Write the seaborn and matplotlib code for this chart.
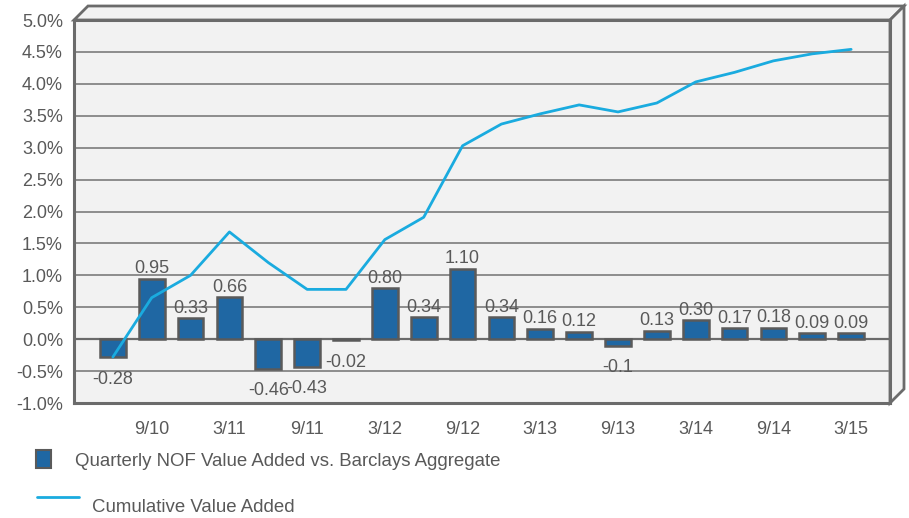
import numpy as np
import pandas as pd
import matplotlib
matplotlib.use("Agg")
import matplotlib.pyplot as plt
import seaborn as sns
from matplotlib.patches import Polygon, Rectangle
from matplotlib.lines import Line2D

# --- data ---
quarters = ["6/10", "9/10", "12/10", "3/11", "6/11", "9/11", "12/11", "3/12", "6/12", "9/12",
            "12/12", "3/13", "6/13", "9/13", "12/13", "3/14", "6/14", "9/14", "12/14", "3/15"]
quarterly = [-0.28, 0.95, 0.33, 0.66, -0.46, -0.43, -0.02, 0.80, 0.34, 1.10,
             0.34, 0.16, 0.12, -0.10, 0.13, 0.30, 0.17, 0.18, 0.09, 0.09]
bar_labels = ["-0.28", "0.95", "0.33", "0.66", "-0.46", "-0.43", "-0.02", "0.80", "0.34", "1.10",
              "0.34", "0.16", "0.12", "-0.1", "0.13", "0.30", "0.17", "0.18", "0.09", "0.09"]
cumulative = [-0.28, 0.65, 1.00, 1.68, 1.20, 0.78, 0.78, 1.56, 1.91, 3.03,
              3.37, 3.53, 3.67, 3.56, 3.70, 4.03, 4.18, 4.36, 4.47, 4.54]
tick_labels = ["9/10", "3/11", "9/11", "3/12", "9/12", "3/13", "9/13", "3/14", "9/14", "3/15"]
y_ticks = [-1.0, -0.5, 0.0, 0.5, 1.0, 1.5, 2.0, 2.5, 3.0, 3.5, 4.0, 4.5, 5.0]

bar_color = "#1f67a3"
line_color = "#1aabdf"
text_color = "#595959"
frame_color = "#6b6b6b"
wall_color = "#f2f2f2"

sns.set_style("white")
plt.rcParams["font.family"] = ["Liberation Sans", "DejaVu Sans"]

df = pd.DataFrame({"quarter": quarters, "value": quarterly, "cum": cumulative})
df["pos"] = np.arange(len(df))

W, H = 909, 518
fig = plt.figure(figsize=(W / 100, H / 100), dpi=100)
fig.patch.set_facecolor("white")
L, R, T, B = 74, 890, 20, 403
ax = fig.add_axes([L / W, 1 - B / H, (R - L) / W, (B - T) / H])
ax.set_facecolor(wall_color)

# --- 3D-ish back wall (top and right strips) ---
dx = 14 / (R - L)
dy = 14 / (B - T)
top_strip = Polygon([(0, 1), (dx, 1 + dy), (1 + dx, 1 + dy), (1, 1)], closed=True,
                    transform=ax.transAxes, clip_on=False, facecolor=wall_color,
                    edgecolor=frame_color, lw=2, zorder=0.5)
right_strip = Polygon([(1, 1), (1 + dx, 1 + dy), (1 + dx, dy), (1, 0)], closed=True,
                      transform=ax.transAxes, clip_on=False, facecolor=wall_color,
                      edgecolor=frame_color, lw=2, zorder=0.5)
ax.add_patch(top_strip)
ax.add_patch(right_strip)

# gridlines
for yv in y_ticks:
    ax.axhline(yv, color="#858585" if yv != 0 else "#6b6b6b", lw=1.3 if yv != 0 else 1.6, zorder=1)

# --- bars ---
sns.barplot(data=df, x="quarter", y="value", color=bar_color, saturation=1, width=0.66,
            edgecolor="#5a5a5a", linewidth=1.8, ax=ax, zorder=2)

# --- cumulative line ---
sns.lineplot(data=df, x="pos", y="cum", color=line_color, lw=2, ax=ax, zorder=3)

# bar labels
for p, v, lab in zip(ax.containers[0], quarterly, bar_labels):
    xc = p.get_x() + p.get_width() / 2
    if v >= 0:
        ax.annotate(lab, (xc, v), xytext=(0, 10), textcoords="offset pixels",
                    ha="center", va="center", fontsize=13, color=text_color, zorder=4)
    else:
        ax.annotate(lab, (xc, v), xytext=(0, -22), textcoords="offset pixels",
                    ha="center", va="center", fontsize=13, color=text_color, zorder=4)

ax.set_xlim(-1, len(quarters))
ax.set_ylim(-1.0, 5.0)
ax.set_xticks(np.arange(1, len(quarters), 2))
ax.set_xticklabels(tick_labels)
ax.set_yticks(y_ticks)
ax.set_yticklabels([f"{v:.1f}%" for v in y_ticks])
ax.tick_params(axis="both", length=0, labelsize=13, colors=text_color)
ax.tick_params(axis="y", pad=8)
ax.tick_params(axis="x", pad=13)
ax.set_xlabel("")
ax.set_ylabel("")
for s in ax.spines.values():
    s.set_color(frame_color)
    s.set_linewidth(2.2)
    s.set_zorder(5)

# --- legend drawn below the chart ---
fig.patches.append(Rectangle((36 / W, 1 - 468 / H), 15 / W, 18 / H, transform=fig.transFigure,
                             facecolor=bar_color, edgecolor="#5a5a5a", lw=1.5))
fig.text(75 / W, 1 - 461 / H, "Quarterly NOF Value Added vs. Barclays Aggregate",
         fontsize=13.4, color=text_color, va="center", ha="left")
fig.lines.append(Line2D([37 / W, 79 / W], [1 - 497 / H, 1 - 497 / H], transform=fig.transFigure,
                        color=line_color, lw=2))
fig.text(92 / W, 1 - 507 / H, "Cumulative Value Added",
         fontsize=13.4, color=text_color, va="center", ha="left")

fig.savefig("out.png", dpi=100, facecolor=fig.get_facecolor())
plt.close(fig)
